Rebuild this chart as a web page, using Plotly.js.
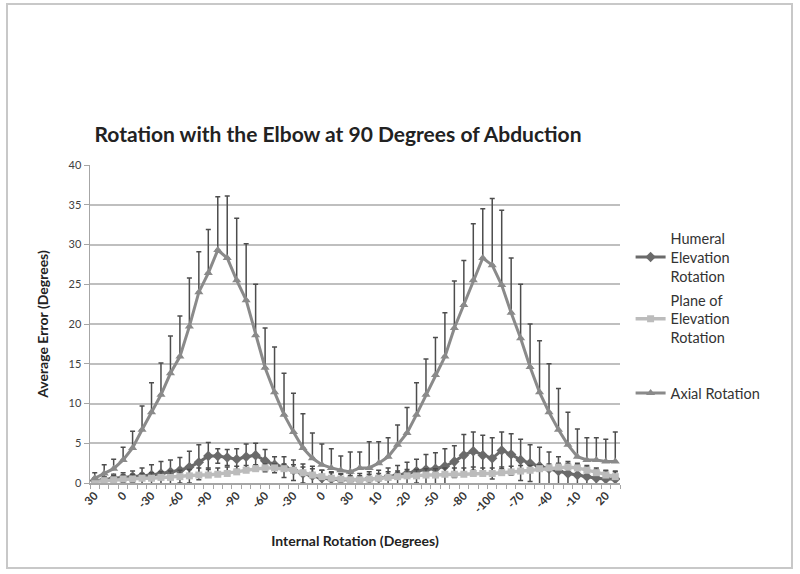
<!DOCTYPE html>
<html>
<head>
<meta charset="utf-8">
<script src="https://cdn.plot.ly/plotly-3.0.1.min.js"></script>
<style>
  html, body { margin: 0; padding: 0; background: #fff; }
  #chart { width: 800px; height: 574px; }
</style>
</head>
<body>
<div id="chart"></div>
<script>
// Internal rotation angle of each sample (two trials)
const angles = [30, 20, 10, 0, -10, -20, -30, -40, -50, -60, -70, -80, -90, -100, -100, -90, -80, -70, -60, -50, -40, -30, -20, -10, 0, 10, 20, 30,
                30, 20, 10, 0, -10, -20, -30, -40, -50, -60, -70, -80, -90, -100, -100, -90, -80, -70, -60, -50, -40, -30, -20, -10, 0, 10, 20, 30];

// Average error (degrees)
const humeral = [0.3, 0.4, 0.6, 0.7, 0.8, 0.9, 1.0, 1.2, 1.4, 1.6, 2.0, 2.6, 3.4, 3.4, 3.2, 3.0, 3.3, 3.5, 2.8, 2.3, 2.0, 1.6, 1.2, 0.9, 0.6, 0.5, 0.4, 0.4,
                 0.4, 0.5, 0.6, 0.8, 1.0, 1.2, 1.5, 1.7, 1.8, 2.1, 2.7, 3.5, 4.0, 3.5, 3.1, 4.1, 3.6, 2.9, 2.5, 2.1, 1.8, 1.5, 1.2, 1.0, 0.8, 0.6, 0.5, 0.5];
const humeralErr = [0.3, 0.4, 0.5, 0.6, 0.7, 1.0, 1.3, 1.5, 1.5, 1.6, 2.0, 2.2, 1.7, 0.9, 1.0, 1.3, 1.6, 1.5, 1.4, 1.0, 1.3, 1.3, 1.2, 1.2, 1.0, 0.9, 0.8, 0.8,
                    0.8, 0.9, 1.0, 1.1, 1.2, 1.4, 1.5, 1.9, 2.0, 2.2, 2.0, 2.6, 2.4, 2.5, 2.6, 2.3, 2.6, 2.6, 2.3, 2.4, 2.1, 1.8, 1.5, 1.3, 1.2, 1.1, 1.0, 1.0];

const plane = [0.2, 0.3, 0.4, 0.5, 0.5, 0.6, 0.6, 0.7, 0.7, 0.8, 0.9, 1.0, 1.0, 1.1, 1.2, 1.4, 1.6, 1.8, 1.9, 1.9, 1.8, 1.6, 1.3, 1.0, 0.8, 0.6, 0.5, 0.4,
               0.4, 0.5, 0.6, 0.7, 0.8, 0.9, 0.9, 1.0, 1.0, 1.1, 1.1, 1.1, 1.2, 1.2, 1.2, 1.3, 1.4, 1.5, 1.6, 1.8, 1.9, 2.0, 2.0, 1.9, 1.6, 1.3, 1.0, 0.8];
const planeErr = [0.3, 0.4, 0.5, 0.5, 0.6, 0.6, 0.7, 0.7, 0.8, 0.8, 0.8, 0.9, 0.9, 0.8, 0.8, 0.7, 0.6, 0.5, 0.5, 0.5, 0.6, 0.7, 0.7, 0.8, 0.8, 0.7, 0.6, 0.5,
                  0.5, 0.6, 0.6, 0.7, 0.7, 0.8, 0.8, 0.8, 0.8, 0.8, 0.8, 0.8, 0.8, 0.7, 0.7, 0.7, 0.7, 0.7, 0.6, 0.5, 0.5, 0.5, 0.5, 0.6, 0.6, 0.6, 0.6, 0.6];

const axial = [0.6, 1.2, 1.8, 2.9, 4.4, 6.7, 8.9, 11.1, 13.8, 15.9, 19.7, 24.0, 26.4, 29.3, 28.3, 25.5, 23.0, 18.6, 14.5, 11.4, 8.6, 6.4, 4.4, 3.1, 2.3, 1.9, 1.6, 1.4,
               1.9, 1.9, 2.5, 3.3, 4.8, 6.3, 8.6, 11.1, 13.6, 15.9, 19.5, 22.4, 25.5, 28.3, 27.4, 24.9, 21.4, 18.2, 14.6, 11.4, 8.9, 6.7, 4.8, 3.3, 2.9, 2.9, 2.7, 2.7];
const axialErr = [0.7, 1.1, 1.2, 1.6, 2.1, 3.0, 3.7, 4.0, 4.7, 5.1, 6.1, 5.1, 5.5, 6.7, 7.8, 7.8, 7.1, 6.4, 5.0, 5.7, 5.2, 4.9, 4.3, 3.2, 2.6, 2.4, 1.8, 2.5,
                  2.0, 3.3, 2.7, 2.4, 2.5, 3.2, 4.0, 4.5, 4.7, 5.5, 5.9, 5.6, 7.1, 6.2, 8.4, 9.4, 6.9, 6.8, 5.4, 6.5, 6.1, 5.2, 4.1, 3.5, 2.8, 2.8, 2.8, 3.7];

const seriesNames = ['Humeral<br>Elevation<br>Rotation', 'Plane of<br>Elevation<br>Rotation', 'Axial Rotation'];

// category index for each sample, labels every third category
const xIdx = angles.map((a, i) => i);
const tickIdx = xIdx.filter(i => i % 3 === 0);
const tickLabels = tickIdx.map(i => String(angles[i]));

function errBar(arr, symmetric) {
    return {
        type: 'data',
        array: arr,
        symmetric: symmetric,
        arrayminus: symmetric ? undefined : arr.map(() => 0),
        color: '#4d4d4d',
        thickness: 1.5,
        width: 2.5
    };
}

const data = [{
    x: xIdx,
    y: humeral,
    name: seriesNames[0],
    legend: 'legend',
    type: 'scatter',
    mode: 'lines+markers',
    line: {color: '#6a6a6a', width: 3},
    marker: {symbol: 'diamond', size: 8, color: '#6a6a6a'},
    error_y: errBar(humeralErr, true)
}, {
    x: xIdx,
    y: plane,
    name: seriesNames[1],
    legend: 'legend2',
    type: 'scatter',
    mode: 'lines+markers',
    line: {color: '#bcbcbc', width: 3.5},
    marker: {symbol: 'square', size: 7, color: '#bcbcbc'},
    error_y: errBar(planeErr, false)
}, {
    x: xIdx,
    y: axial,
    name: seriesNames[2],
    legend: 'legend3',
    type: 'scatter',
    mode: 'lines+markers',
    line: {color: '#8a8a8a', width: 3},
    marker: {symbol: 'triangle-up', size: 8, color: '#8a8a8a'},
    error_y: errBar(axialErr, false)
}];

// plot area in pixels: x 90..620, y 165..483
const px = v => (v - 90) / 530;
const py = v => (483 - v) / 318;

const legendBase = {
    x: 1.02, xanchor: 'left', yanchor: 'top',
    font: {size: 14.5, color: '#333'},
    itemwidth: 30,
    bgcolor: 'rgba(0,0,0,0)'
};

const layout = {
    width: 800,
    height: 574,
    margin: {l: 90, r: 180, t: 165, b: 91},
    paper_bgcolor: '#ffffff',
    plot_bgcolor: '#ffffff',
    font: {family: 'Lato, "Open Sans", sans-serif', color: '#404040'},
    title: {
        text: '<b>Rotation with the Elbow at 90 Degrees of Abduction</b>',
        font: {size: 21, color: '#222'},
        x: 0.4225, xanchor: 'center', xref: 'container',
        y: 1 - 135 / 574, yanchor: 'middle', yref: 'container'
    },
    showlegend: true,
    legend: Object.assign({}, legendBase, {y: 0.82}),
    legend2: Object.assign({}, legendBase, {y: 0.626}),
    legend3: Object.assign({}, legendBase, {y: 0.333}),
    xaxis: {
        range: [-0.5, 55.5],
        tickmode: 'array',
        tickvals: tickIdx,
        ticktext: tickLabels,
        tickangle: -45,
        tickfont: {size: 11.5, color: '#333', family: 'Lato, sans-serif', weight: 'bold'},
        ticks: '',
        showgrid: false,
        zeroline: false,
        showline: true,
        linecolor: '#a6a6a6',
        linewidth: 1.5,
        minor: {tickmode: 'linear', tick0: 0.5, dtick: 1, ticks: 'outside', ticklen: 4, tickcolor: '#a6a6a6', showgrid: false},
        title: {text: '<b>Internal Rotation (Degrees)</b>', font: {size: 14, color: '#222'}, standoff: 22}
    },
    yaxis: {
        range: [0, 40],
        dtick: 5,
        ticks: 'outside',
        ticklen: 5,
        tickcolor: '#a6a6a6',
        tickfont: {size: 11, color: '#404040'},
        showgrid: true,
        gridcolor: '#bfbfbf',
        gridwidth: 2,
        zeroline: false,
        showline: true,
        linecolor: '#a6a6a6',
        linewidth: 1.5,
        title: {text: '<b>Average Error (Degrees)</b>', font: {size: 14, color: '#222'}, standoff: 16}
    },
    shapes: [{
        type: 'rect', xref: 'paper', yref: 'paper',
        x0: px(7), x1: px(792), y0: py(568), y1: py(4),
        line: {color: '#c8c8c8', width: 2}
    }]
};

Plotly.newPlot('chart', data, layout, {staticPlot: true, displayModeBar: false});
</script>
</body>
</html>
